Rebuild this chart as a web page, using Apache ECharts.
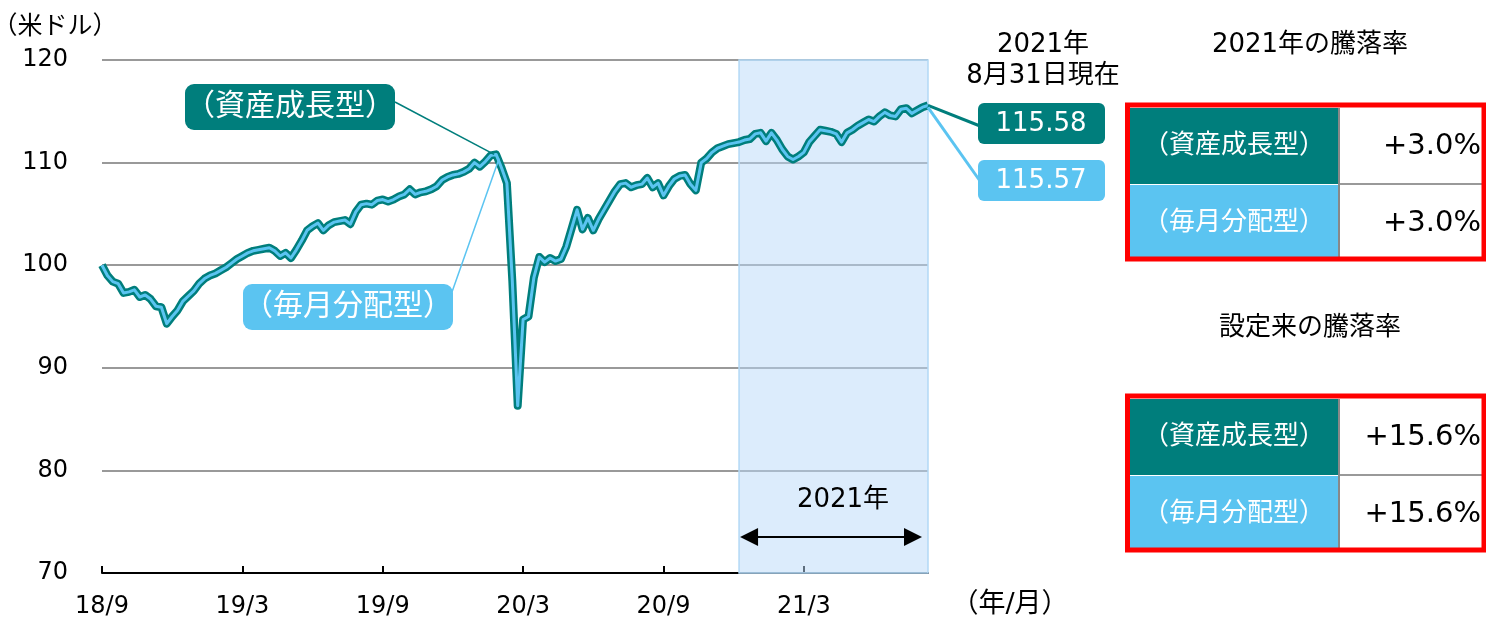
<!DOCTYPE html>
<html lang="ja">
<head>
<meta charset="utf-8">
<title>基準価額の推移</title>
<script src="https://cdn.jsdelivr.net/npm/echarts@6/dist/echarts.min.js"></script>
<style>
  html, body { margin: 0; padding: 0; background: #fff; }
  #chart { width: 1486px; height: 623px; }
</style>
</head>
<body>
<div id="chart"></div>
<script>
const FONT = '"DejaVu Sans", "Noto Sans CJK JP", sans-serif';
const TEAL = '#007E7C';
const SKY = '#5BC4F1';

// weekly (Friday) dates from launch, plus the reference date
const dates = [];
for (let i = 0; i < 153; i++) {
  const d = new Date(2018, 8, 28 + i * 7);
  dates.push(d.getFullYear() + '/' + (d.getMonth() + 1) + '/' + d.getDate());
}
dates.push('2021/8/31');

// （資産成長型）
const growthValues = [
  100.0, 99.0, 98.4, 98.2, 97.3, 97.4, 97.6, 96.9, 97.1, 96.7,
  96.0, 95.9, 94.3, 95.0, 95.6, 96.5, 97.0, 97.5, 98.2, 98.7,
  99.0, 99.2, 99.5, 99.8, 100.2, 100.6, 100.9, 101.2, 101.4, 101.5,
  101.6, 101.7, 101.4, 100.9, 101.2, 100.7, 101.5, 102.4, 103.4, 103.8,
  104.1, 103.4, 103.9, 104.2, 104.3, 104.4, 104.0, 105.2, 105.9, 106.0,
  105.9, 106.3, 106.4, 106.2, 106.4, 106.7, 106.9, 107.4, 106.9, 107.1,
  107.2, 107.4, 107.7, 108.3, 108.6, 108.8, 108.9, 109.1, 109.4, 110.0,
  109.6, 110.1, 110.7, 110.8, 109.5, 108.0, 98.5, 86.3, 94.7, 95.0,
  98.8, 100.8, 100.3, 100.7, 100.4, 100.6, 101.8, 103.6, 105.4, 103.5,
  104.6, 103.4, 104.5, 105.4, 106.3, 107.2, 107.9, 108.0, 107.6, 107.8,
  107.9, 108.5, 107.6, 108.0, 106.8, 107.7, 108.4, 108.7, 108.8, 107.9,
  107.3, 110.0, 110.4, 111.0, 111.4, 111.6, 111.8, 111.9, 112.0, 112.2,
  112.3, 112.8, 112.9, 112.1, 112.9, 112.2, 111.3, 110.6, 110.3, 110.6,
  111.0, 112.0, 112.6, 113.2, 113.1, 113.0, 112.8, 112.0, 112.9, 113.2,
  113.6, 113.9, 114.2, 114.0, 114.5, 114.9, 114.6, 114.5, 115.2, 115.3,
  114.8, 115.1, 115.4, 115.58
];

// （毎月分配型）
const monthlyValues = [
  100.0, 99.0, 98.4, 98.2, 97.3, 97.4, 97.6, 96.9, 97.1, 96.7,
  96.0, 95.9, 94.3, 95.0, 95.6, 96.5, 97.0, 97.5, 98.2, 98.7,
  99.0, 99.2, 99.5, 99.8, 100.2, 100.6, 100.9, 101.2, 101.4, 101.5,
  101.6, 101.7, 101.4, 100.9, 101.2, 100.7, 101.5, 102.4, 103.4, 103.8,
  104.1, 103.4, 103.9, 104.2, 104.3, 104.4, 104.0, 105.2, 105.9, 106.0,
  105.9, 106.3, 106.4, 106.2, 106.4, 106.7, 106.9, 107.4, 106.9, 107.1,
  107.2, 107.4, 107.7, 108.3, 108.6, 108.8, 108.9, 109.1, 109.4, 110.0,
  109.6, 110.1, 110.7, 110.8, 109.5, 108.0, 98.5, 86.3, 94.7, 95.0,
  98.8, 100.8, 100.3, 100.7, 100.4, 100.6, 101.8, 103.6, 105.4, 103.5,
  104.6, 103.4, 104.5, 105.4, 106.3, 107.2, 107.9, 108.0, 107.6, 107.8,
  107.9, 108.5, 107.6, 108.0, 106.8, 107.7, 108.4, 108.7, 108.8, 107.9,
  107.3, 110.0, 110.4, 111.0, 111.4, 111.6, 111.8, 111.9, 112.0, 112.2,
  112.3, 112.8, 112.9, 112.1, 112.9, 112.2, 111.3, 110.6, 110.3, 110.6,
  111.0, 112.0, 112.6, 113.2, 113.1, 113.0, 112.8, 112.0, 112.9, 113.2,
  113.6, 113.9, 114.2, 114.0, 114.5, 114.9, 114.6, 114.5, 115.2, 115.3,
  114.8, 115.1, 115.4, 115.57
];

const fundNames = ['（資産成長型）', '（毎月分配型）'];
const ytdReturns = ['+3.0%', '+3.0%'];
const sinceLaunchReturns = ['+15.6%', '+15.6%'];
const latestValues = ['115.58', '115.57'];
const yearStart = '2021/1/1';

const chart = echarts.init(document.getElementById('chart'));

chart.setOption({
  animation: false,
  grid: { left: 102, right: 558, top: 60, bottom: 50 },
  xAxis: {
    type: 'category',
    data: dates,
    boundaryGap: false,
    axisLine: { lineStyle: { color: '#000', width: 2 } },
    axisTick: { inside: true, length: 7, interval: 25, lineStyle: { color: '#000', width: 2 } },
    axisLabel: {
      interval: 25,
      margin: 22,
      color: '#000',
      fontSize: 24,
      fontFamily: FONT,
      formatter: v => {
        const p = v.split('/');
        return p[0].slice(2) + '/' + p[1];
      }
    },
    splitLine: { show: false }
  },
  yAxis: {
    type: 'value',
    min: 70,
    max: 120,
    interval: 10,
    axisLine: { show: false },
    axisTick: { show: false },
    axisLabel: { margin: 34, color: '#000', fontSize: 24, fontFamily: FONT, padding: [8, 0, 0, 0] },
    splitLine: { lineStyle: { color: '#999', width: 2 } }
  },
  series: [
    {
      name: fundNames[0],
      type: 'line',
      data: growthValues,
      showSymbol: false,
      z: 3,
      lineStyle: { color: TEAL, width: 8, join: 'round' },
      itemStyle: { color: TEAL },
      markArea: {
        silent: true,
        itemStyle: { color: 'rgba(185,217,249,0.5)', borderColor: '#B3D9F6', borderWidth: 1.5 },
        data: [[{ xAxis: yearStart }, { xAxis: dates[dates.length - 1] }]]
      }
    },
    {
      name: fundNames[1],
      type: 'line',
      data: monthlyValues,
      showSymbol: false,
      z: 4,
      lineStyle: { color: SKY, width: 3, join: 'round' },
      itemStyle: { color: SKY }
    }
  ]
});

function txt(x, y, text, size, color, align) {
  return {
    type: 'text', x, y, z: 20,
    style: { text, fill: color || '#000', fontSize: size, fontFamily: FONT,
             align: align || 'center', verticalAlign: 'middle' }
  };
}
function rect(x, y, w, h, fill, r) {
  return { type: 'rect', z: 18, shape: { x, y, width: w, height: h, r: r || 0 }, style: { fill } };
}
function line(x1, y1, x2, y2, color, w) {
  return { type: 'line', z: 17, shape: { x1, y1, x2, y2 }, style: { stroke: color, lineWidth: w } };
}
function table(top, values) {
  const els = [];
  els.push({ type: 'rect', z: 19, shape: { x: 1127.5, y: top + 2, width: 356.5, height: 154 },
             style: { fill: 'none', stroke: '#FF0000', lineWidth: 5 } });
  els.push(rect(1130, top + 5, 208, 76, TEAL));
  els.push(rect(1130, top + 82, 208, 73, SKY));
  els.push(line(1339, top + 5, 1339, top + 155, '#888', 2));
  els.push(line(1340, top + 81, 1482, top + 81, '#999', 2));
  els.push(txt(1234, top + 43, fundNames[0], 26, '#fff'));
  els.push(txt(1234, top + 120, fundNames[1], 26, '#fff'));
  els.push(txt(1481, top + 43, values[0], 29, '#000', 'right'));
  els.push(txt(1481, top + 120, values[1], 29, '#000', 'right'));
  return els;
}

const lastIdx = dates.length - 1;
const peak = chart.convertToPixel({ seriesIndex: 0 }, [dates[73], growthValues[73]]);
const endG = chart.convertToPixel({ seriesIndex: 0 }, [dates[lastIdx], growthValues[lastIdx]]);
const endM = chart.convertToPixel({ seriesIndex: 1 }, [dates[lastIdx], monthlyValues[lastIdx]]);
const arrowL = chart.convertToPixel({ seriesIndex: 0 }, [yearStart, 73.5]);
const arrowR = chart.convertToPixel({ seriesIndex: 0 }, [dates[lastIdx], 73.5]);
const ax1 = arrowL[0] + 1, ax2 = arrowR[0] - 6, ay = arrowL[1];

const graphics = [
  txt(55, 27, '（米ドル）', 25),
  txt(1010, 605, '（年/月）', 27),
  // series callouts
  line(395, 102, peak[0] - 2, peak[1], TEAL, 1.5),
  rect(185, 84, 210, 46, TEAL, 9),
  txt(290, 107, fundNames[0], 30, '#fff'),
  line(452, 292, peak[0] + 3, peak[1] + 4, SKY, 1.5),
  rect(243, 284, 210, 46, SKY, 9),
  txt(348, 307, fundNames[1], 30, '#fff'),
  // latest values
  txt(1043, 45, '2021年', 26),
  txt(1043, 76, '8月31日現在', 26),
  line(endG[0], endG[1], 980, 126, TEAL, 3),
  line(endM[0], endM[1] + 2, 980, 181, SKY, 3),
  rect(978, 103, 127, 41, TEAL, 6),
  txt(1041, 124, latestValues[0], 26, '#fff'),
  rect(978, 160, 127, 41, SKY, 6),
  txt(1041, 181, latestValues[1], 26, '#fff'),
  // 2021 arrow
  line(ax1 + 14, ay, ax2 - 14, ay, '#000', 2),
  { type: 'polygon', z: 17, shape: { points: [[ax1, ay], [ax1 + 18, ay - 9], [ax1 + 18, ay + 9]] }, style: { fill: '#000' } },
  { type: 'polygon', z: 17, shape: { points: [[ax2, ay], [ax2 - 18, ay - 9], [ax2 - 18, ay + 9]] }, style: { fill: '#000' } },
  txt((ax1 + ax2) / 2 + 12, 500, '2021年', 26),
  // return tables
  txt(1310, 45, '2021年の騰落率', 26),
  txt(1310, 328, '設定来の騰落率', 26)
].concat(table(103, ytdReturns), table(394, sinceLaunchReturns));

chart.setOption({ graphic: graphics });
</script>
</body>
</html>
